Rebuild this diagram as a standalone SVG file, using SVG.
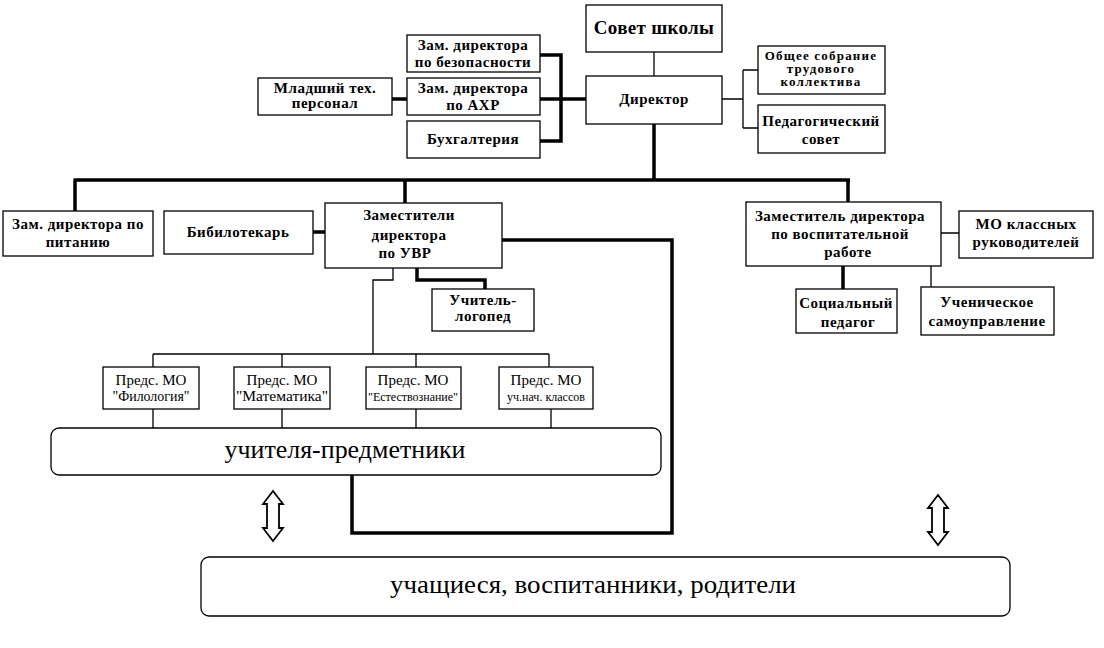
<svg xmlns="http://www.w3.org/2000/svg" width="1104" height="648" viewBox="0 0 1104 648" font-family="'Liberation Serif', 'DejaVu Serif', serif">
<style>
rect{fill:#fff;stroke:#000;stroke-width:1.3}
text{font-family:'Liberation Serif','DejaVu Serif',serif;fill:#000;text-anchor:middle}
.b{font-weight:bold;font-size:15px;letter-spacing:0.5px}
.n{font-size:15px}
.big{font-size:26px}
.thick{fill:none;stroke:#000;stroke-width:3.5}
.thin{fill:none;stroke:#000;stroke-width:1.3}
.arr{fill:#fff;stroke:#000;stroke-width:1.8}
</style>
<rect x="0" y="0" width="1104" height="648" style="stroke:none"/>
<g id="connectors">
<path class="thick" d="M654 124V180M73.5 180H850M75 180V211M405 180V203M848 180V202"/>
<path class="thick" d="M540 55H561V141H540M540 99H586M392 99H407"/>
<path class="thick" d="M313 232H325"/>
<path class="thick" d="M502 240H672V533H352V475"/>
<path class="thick" d="M417 268V280H485V289"/>
<path class="thick" d="M843 266V289"/>
<path class="thin" d="M654 52V76M722 99H743M743 70V128M743 70H758M743 128H758"/>
<path class="thin" d="M393 268V280H373V354M153 354H549M153 354V367M282 354V367M416 354V367M549 354V367"/>
<path class="thin" d="M153 409V428M282 409V428M416 409V428M551 409V428"/>
<path class="thin" d="M941 233H959M931 266V287"/>
<path class="arr" d="M273 491L263 504H267V528H263L273 541L283 528H279V504H283Z"/>
<path class="arr" d="M938 495L928 508H932V532H928L938 545L948 532H944V508H948Z"/>
</g>
<g id="sovet"><rect x="586" y="5" width="136" height="47"/><text class="b" style="font-size:19px;letter-spacing:0.3px" x="654" y="34">Совет школы</text></g>
<g id="director"><rect x="586" y="76" width="136" height="48"/><text class="b" x="654" y="104">Директор</text></g>
<g id="zam-bez"><rect x="407" y="35" width="133" height="37"/><text class="b" x="473" y="50">Зам. директора</text><text class="b" x="473" y="67">по безопасности</text></g>
<g id="zam-ahr"><rect x="407" y="78" width="133" height="37"/><text class="b" x="473" y="93">Зам. директора</text><text class="b" x="473" y="110">по АХР</text></g>
<g id="buh"><rect x="407" y="121" width="133" height="37"/><text class="b" x="473" y="144">Бухгалтерия</text></g>
<g id="mladsh"><rect x="258" y="78" width="134" height="37"/><text class="b" x="325" y="93">Младший тех.</text><text class="b" x="325" y="108">персонал</text></g>
<g id="obshee"><rect x="758" y="46" width="127" height="48"/><text class="b" style="font-size:13px;letter-spacing:1.2px" x="821" y="60">Общее собрание</text><text class="b" style="font-size:13px;letter-spacing:1.2px" x="821" y="73">трудового</text><text class="b" style="font-size:13px;letter-spacing:1.2px" x="821" y="86">коллектива</text></g>
<g id="pedsovet"><rect x="758" y="105" width="127" height="48"/><text class="b" x="821" y="126">Педагогический</text><text class="b" x="821" y="144">совет</text></g>
<g id="zam-pit"><rect x="3" y="211" width="150" height="45"/><text class="b" x="78" y="229">Зам. директора по</text><text class="b" x="78" y="247">питанию</text></g>
<g id="bibl"><rect x="164" y="211" width="149" height="43"/><text class="b" x="238" y="237">Бибилотекарь</text></g>
<g id="zam-uvr"><rect x="325" y="203" width="177" height="65"/><text class="b" x="409" y="220">Заместители</text><text class="b" x="409" y="240">директора</text><text class="b" x="405" y="258">по УВР</text></g>
<g id="logoped"><rect x="432" y="289" width="102" height="42"/><text class="b" x="483" y="305">Учитель-</text><text class="b" x="483" y="321">логопед</text></g>
<g id="zam-vr"><rect x="746" y="202" width="195" height="64"/><text class="b" x="840" y="221">Заместитель директора</text><text class="b" x="840" y="239">по воспитательной</text><text class="b" x="848" y="257">работе</text></g>
<g id="mo-kl"><rect x="959" y="211" width="134" height="47"/><text class="b" x="1026" y="229">МО классных</text><text class="b" x="1026" y="247">руководителей</text></g>
<g id="socped"><rect x="796" y="289" width="101" height="44"/><text class="b" x="846" y="308">Социальный</text><text class="b" x="848" y="327">педагог</text></g>
<g id="uchsam"><rect x="921" y="287" width="133" height="48"/><text class="b" x="987" y="307">Ученическое</text><text class="b" x="987" y="326">самоуправление</text></g>
<g id="mo-fil"><rect x="103" y="367" width="96" height="42"/><text class="n" x="151" y="385">Предс. МО</text><text class="n" x="151" y="401" textLength="77" lengthAdjust="spacingAndGlyphs">"Филология"</text></g>
<g id="mo-mat"><rect x="234" y="367" width="96" height="42"/><text class="n" x="282" y="385">Предс. МО</text><text class="n" x="282" y="401" textLength="92" lengthAdjust="spacingAndGlyphs">"Математика"</text></g>
<g id="mo-est"><rect x="366" y="367" width="95" height="42"/><text class="n" x="413" y="385">Предс. МО</text><text class="n" x="413" y="401" style="font-size:12px" textLength="90" lengthAdjust="spacingAndGlyphs">"Естествознание"</text></g>
<g id="mo-nach"><rect x="499" y="367" width="94" height="42"/><text class="n" x="546" y="385">Предс. МО</text><text class="n" x="546" y="401" style="font-size:12px" textLength="78" lengthAdjust="spacingAndGlyphs">уч.нач. классов</text></g>
<g id="uchitelya"><rect x="51" y="428" width="610" height="47" rx="8"/><text class="big" x="345" y="458" textLength="241" lengthAdjust="spacingAndGlyphs">учителя-предметники</text></g>
<g id="uchashiesya"><rect x="201" y="557" width="809" height="59" rx="8"/><text class="big" x="593" y="593" textLength="406" lengthAdjust="spacingAndGlyphs">учащиеся, воспитанники, родители</text></g>
</svg>
